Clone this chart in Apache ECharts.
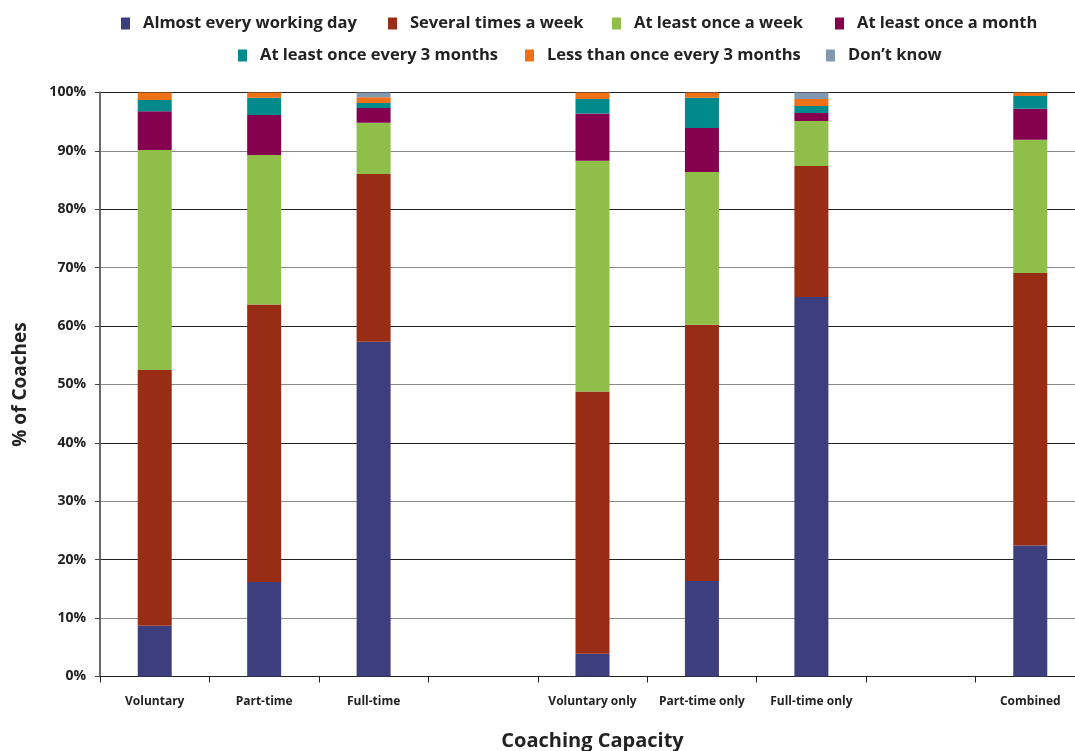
<!DOCTYPE html>
<html>
<head>
<meta charset="utf-8">
<script src="https://cdn.jsdelivr.net/npm/echarts@6/dist/echarts.min.js"></script>
<style>
html,body{margin:0;padding:0;background:#fff;}
#chart{width:1075px;height:751px;}
</style>
</head>
<body>
<div id="chart"></div>
<script>
const categories = ['Voluntary', 'Part-time', 'Full-time', '', 'Voluntary only', 'Part-time only', 'Full-time only', ' ', 'Combined'];
const seriesNames = ['Almost every working day', 'Several times a week', 'At least once a week', 'At least once a month', 'At least once every 3 months', 'Less than once every 3 months', 'Don\u2019t know'];
const almostEveryDay = [8.7, 16.2, 57.3, '-', 3.9, 16.35, 65.0, '-', 22.45];
const severalWeek    = [43.8, 47.5, 28.75, '-', 44.9, 43.9, 22.4, '-', 46.65];
const onceWeek       = [37.65, 25.6, 8.75, '-', 39.5, 26.15, 7.7, '-', 22.8];
const onceMonth      = [6.65, 6.85, 2.55, '-', 8.1, 7.5, 1.4, '-', 5.3];
const once3Months    = [1.9, 2.95, 0.85, '-', 2.5, 5.2, 1.2, '-', 2.2];
const lessThan3      = [1.3, 0.9, 1.0, '-', 1.1, 0.9, 1.2, '-', 0.6];
const dontKnow       = [0, 0, 0.8, '-', 0, 0, 1.1, '-', 0];
const yTicks = [0, 10, 20, 30, 40, 50, 60, 70, 80, 90, 100];

const colors = ['#3d3e7e', '#992c14', '#8fbe49', '#85004f', '#008a8c', '#ee7118', '#8399b2'];
const values = [almostEveryDay, severalWeek, onceWeek, onceMonth, once3Months, lessThan3, dontKnow];
const FONT = '"Open Sans", "Noto Sans", sans-serif';

const legendPos = [
  {left: 121, top: 15}, {left: 388, top: 15}, {left: 612, top: 15}, {left: 835, top: 15},
  {left: 238, top: 47}, {left: 525, top: 47}, {left: 826, top: 47}
];

const chart = echarts.init(document.getElementById('chart'));
chart.setOption({
  backgroundColor: '#fff',
  animation: false,
  color: colors,
  legend: seriesNames.map((n, i) => ({
    data: [n], left: legendPos[i].left, top: legendPos[i].top, padding: 0,
    icon: 'rect', itemWidth: 9, itemHeight: 12,
    textStyle: {fontFamily: FONT, fontWeight: 'bold', fontSize: 16.5, color: '#222', padding: [0, 0, 0, 8]}
  })),
  grid: {left: 100, right: -10, top: 92.5, bottom: 74.5, containLabel: false, outerBoundsMode: 'none'},
  xAxis: {
    type: 'category',
    data: categories,
    name: 'Coaching Capacity',
    nameLocation: 'middle',
    nameGap: 55,
    nameTextStyle: {fontFamily: FONT, fontWeight: 'bold', fontSize: 20, color: '#222'},
    axisLine: {lineStyle: {color: '#222', width: 1}},
    axisTick: {show: true, length: 6, lineStyle: {color: '#222'}},
    axisLabel: {fontFamily: FONT, fontWeight: 'bold', fontSize: 12, color: '#222', margin: 19, interval: 0}
  },
  yAxis: {
    type: 'value',
    min: 0, max: 100, interval: 10,
    name: '% of Coaches',
    nameLocation: 'middle',
    nameGap: 70,
    nameTextStyle: {fontFamily: FONT, fontWeight: 'bold', fontSize: 19, color: '#222'},
    axisLine: {show: true, lineStyle: {color: '#6a6a6a', width: 2}},
    axisTick: {show: true, length: 5, lineStyle: {color: '#444'}},
    axisLabel: {fontFamily: FONT, fontWeight: 'bold', fontSize: 14, color: '#222', margin: 14,
      formatter: v => yTicks.includes(v) ? v + '%' : ''},
    splitLine: {show: true, lineStyle: {color: ['#222', '#8a8a8a'], width: 1}}
  },
  series: seriesNames.map((n, i) => ({
    name: n,
    type: 'bar',
    stack: 'total',
    barWidth: 34,
    data: values[i],
    itemStyle: {color: colors[i]}
  }))
});
</script>
</body>
</html>
